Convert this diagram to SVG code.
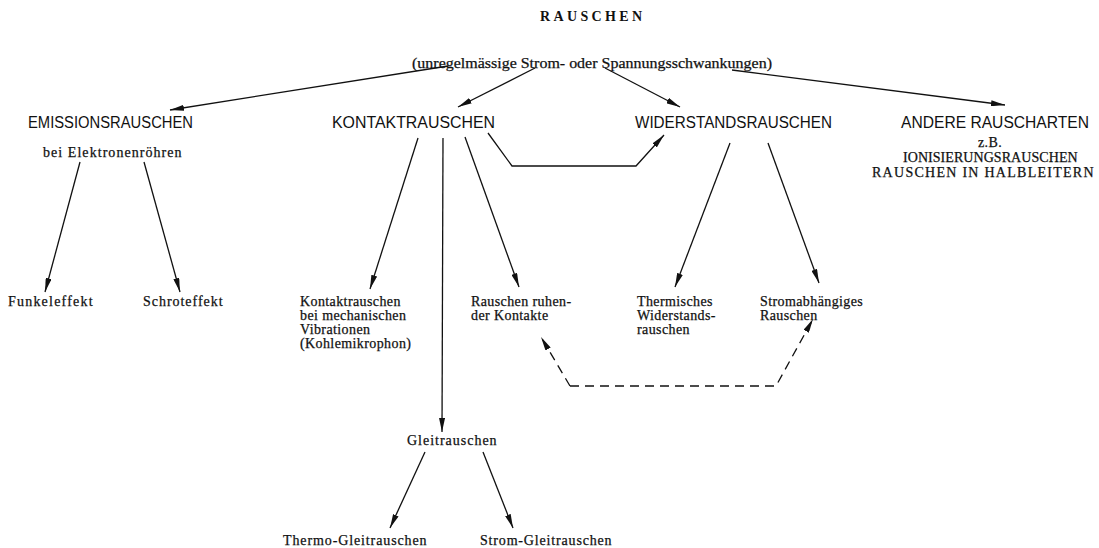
<svg xmlns="http://www.w3.org/2000/svg" width="1099" height="548" viewBox="0 0 1099 548">
<style>
.h{font-family:"Liberation Sans",Arial,sans-serif;font-size:16px;fill:#111}
.s{font-family:"Liberation Serif","Times New Roman",serif;font-size:14px;fill:#111;stroke:#111;stroke-width:0.25;letter-spacing:0.4px}
.t{font-family:"Liberation Serif","Times New Roman",serif;font-size:14px;font-weight:bold;fill:#111}
.c{fill:none;stroke:#111;stroke-width:1.3}
.d{fill:none;stroke:#111;stroke-width:1.3;stroke-dasharray:9,6}
</style>
<defs>
<marker id="a" viewBox="0 0 14 6" refX="14" refY="3" markerWidth="14" markerHeight="6" markerUnits="userSpaceOnUse" orient="auto">
<path d="M0,0 L14,3 L0,6 Z" fill="#111"/>
</marker>
</defs>
<rect width="1099" height="548" fill="#fff"/>
<g id="root">
<text class="t" x="540" y="21" textLength="102" lengthAdjust="spacing">RAUSCHEN</text>
<text class="s" x="412" y="68" textLength="360" lengthAdjust="spacingAndGlyphs" style="font-size:15px;letter-spacing:0">(unregelmässige Strom- oder Spannungsschwankungen)</text>
</g>
<g id="emission">
<text class="h" x="28" y="128" textLength="165" lengthAdjust="spacingAndGlyphs">EMISSIONSRAUSCHEN</text>
<text class="s" x="43" y="157" textLength="139" lengthAdjust="spacing">bei Elektronenröhren</text>
</g>
<g id="kontakt">
<text class="h" x="332" y="128" textLength="163" lengthAdjust="spacingAndGlyphs">KONTAKTRAUSCHEN</text>
</g>
<g id="widerstand">
<text class="h" x="635" y="128" textLength="197" lengthAdjust="spacingAndGlyphs">WIDERSTANDSRAUSCHEN</text>
</g>
<g id="andere">
<text class="h" x="901" y="128" textLength="188" lengthAdjust="spacingAndGlyphs">ANDERE RAUSCHARTEN</text>
<text class="s" x="990" y="147" text-anchor="middle">z.B.</text>
<text class="s" x="903" y="162" textLength="175" lengthAdjust="spacing">IONISIERUNGSRAUSCHEN</text>
<text class="s" x="872" y="177" textLength="222" lengthAdjust="spacing">RAUSCHEN IN HALBLEITERN</text>
</g>
<g id="funkel"><text class="s" x="8" y="306" textLength="85" lengthAdjust="spacing">Funkeleffekt</text></g>
<g id="schrot"><text class="s" x="143" y="306" textLength="80" lengthAdjust="spacing">Schroteffekt</text></g>
<g id="kontaktmech">
<text class="s" x="300" y="306">Kontaktrauschen</text>
<text class="s" x="300" y="320">bei mechanischen</text>
<text class="s" x="300" y="334">Vibrationen</text>
<text class="s" x="300" y="348">(Kohlemikrophon)</text>
</g>
<g id="ruhend">
<text class="s" x="471" y="306">Rauschen ruhen-</text>
<text class="s" x="471" y="320">der Kontakte</text>
</g>
<g id="thermisch">
<text class="s" x="637" y="306">Thermisches</text>
<text class="s" x="637" y="320">Widerstands-</text>
<text class="s" x="637" y="334">rauschen</text>
</g>
<g id="stromabh">
<text class="s" x="760" y="306">Stromabhängiges</text>
<text class="s" x="760" y="320">Rauschen</text>
</g>
<g id="gleit"><text class="s" x="407" y="445" textLength="90" lengthAdjust="spacing">Gleitrauschen</text></g>
<g id="thermogleit"><text class="s" x="283" y="545" textLength="144" lengthAdjust="spacing">Thermo-Gleitrauschen</text></g>
<g id="stromgleit"><text class="s" x="480" y="545" textLength="132" lengthAdjust="spacing">Strom-Gleitrauschen</text></g>
<g id="connectors">
<path class="c" d="M448,66 L170,110" marker-end="url(#a)"/>
<path class="c" d="M535,68 L458,107" marker-end="url(#a)"/>
<path class="c" d="M605,68 L680,107" marker-end="url(#a)"/>
<path class="c" d="M732,70 L1005,105" marker-end="url(#a)"/>
<path class="c" d="M80,162 L45,292" marker-end="url(#a)"/>
<path class="c" d="M144,162 L180,292" marker-end="url(#a)"/>
<path class="c" d="M418,138 L370,289" marker-end="url(#a)"/>
<path class="c" d="M443,138 L442,432" marker-end="url(#a)"/>
<path class="c" d="M465,137 L519,287" marker-end="url(#a)"/>
<path class="c" d="M488,133 L512,166 L636,166 L664,135" marker-end="url(#a)"/>
<path class="c" d="M730,143 L675,287" marker-end="url(#a)"/>
<path class="c" d="M768,143 L819,283" marker-end="url(#a)"/>
<path class="d" d="M570,386 L776,386 L813,319" marker-end="url(#a)"/>
<path class="d" d="M570,386 L541,337" marker-end="url(#a)"/>
<path class="c" d="M425,452 L390,528" marker-end="url(#a)"/>
<path class="c" d="M483,452 L513,528" marker-end="url(#a)"/>
</g>
</svg>
